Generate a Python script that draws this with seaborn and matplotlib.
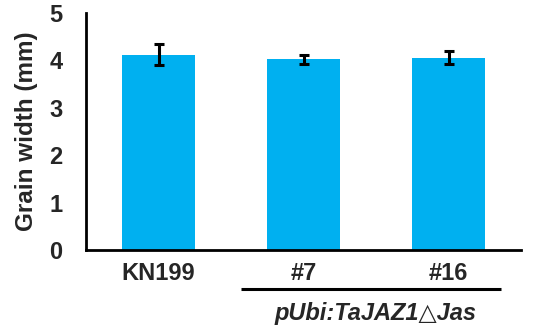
import matplotlib
matplotlib.use("Agg")
import matplotlib.pyplot as plt
import matplotlib.transforms as mtransforms
import seaborn as sns
import pandas as pd

categories = ["KN199", "#7", "#16"]
values = [4.12, 4.02, 4.06]
errors = [0.22, 0.09, 0.13]
group_label = "pUbi:TaJAZ1\u25B3Jas"
ylabel = "Grain width (mm)"
yticks = [0, 1, 2, 3, 4, 5]

sns.set_style("white")
plt.rcParams['font.family'] = ['Liberation Sans', 'DejaVu Sans']
plt.rcParams['font.weight'] = 'bold'

fig = plt.figure(figsize=(5.47, 3.25), dpi=100)
ax = fig.add_axes([86/547, 75/325, 435/547, 237/325])

df = pd.DataFrame({"cat": categories, "val": values})
sns.barplot(data=df, x="cat", y="val", color="#00B0F0", saturation=1, width=0.5,
            ax=ax, errorbar=None, edgecolor="none")
ax.errorbar(range(len(categories)), values, yerr=errors, fmt="none", ecolor="black",
            elinewidth=2.2, capsize=3.8, capthick=2.2)

ax.set_xlim(-0.5, 2.5)
ax.set_ylim(0, 5)
ax.set_yticks(yticks)
ax.set_yticklabels([str(t) for t in yticks], fontsize=17, fontweight='bold')
ax.set_xticks(range(len(categories)))
ax.set_xticklabels(categories, fontsize=17, fontweight='bold')
ax.set_xticks([-0.5, 0.5, 1.5, 2.5], minor=True)
ax.tick_params(axis='x', which='major', length=0, pad=9)
ax.tick_params(axis='x', which='minor', direction='in', length=5, width=2, color='black')
ax.tick_params(axis='y', which='major', direction='in', length=5, width=2, color='black', pad=17)
ax.set_xlabel("")
ax.set_ylabel(ylabel, fontsize=17.5, fontweight='bold', labelpad=8)

for s in ["top", "right"]:
    ax.spines[s].set_visible(False)
for s in ["left", "bottom"]:
    ax.spines[s].set_linewidth(2)
    ax.spines[s].set_color("black")

trans = mtransforms.blended_transform_factory(ax.transData, ax.transAxes)
ax.plot([0.57, 2.36], [-0.165, -0.165], transform=trans, color="black", lw=2.2,
        clip_on=False, solid_capstyle='butt')
ax.text(1.5, -0.27, group_label, transform=trans, ha="center", va="center",
        fontsize=17, fontweight='bold', fontstyle='italic')

fig.savefig("out.png", dpi=100)
